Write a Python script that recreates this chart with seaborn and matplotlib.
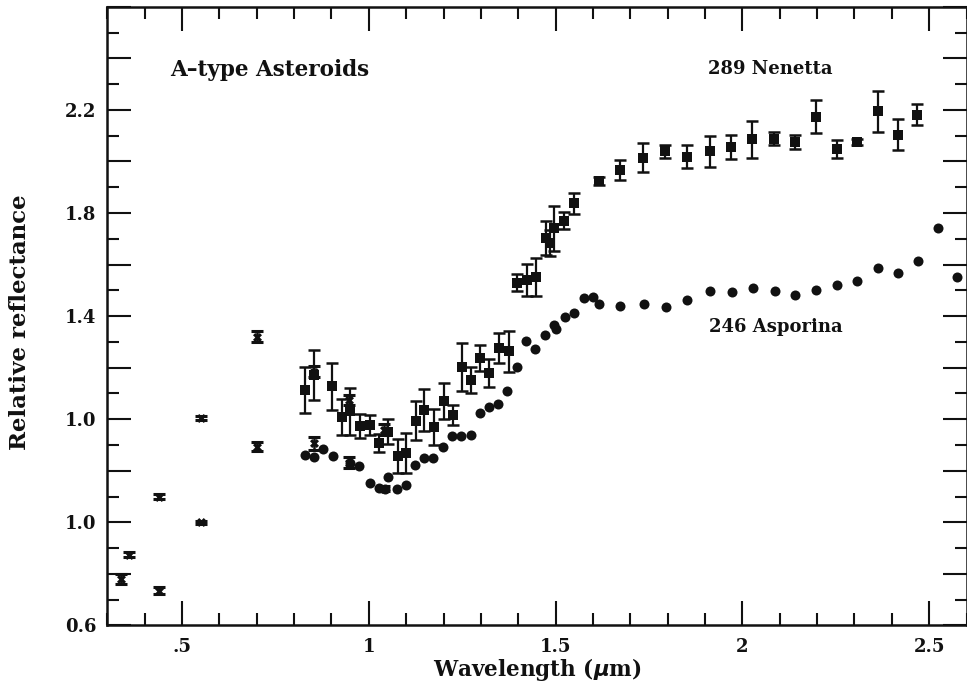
import numpy as np
import pandas as pd
import matplotlib
matplotlib.use("Agg")
import matplotlib.pyplot as plt
from matplotlib.ticker import FixedLocator, FixedFormatter, MultipleLocator
import seaborn as sns

# 289 Nenetta spectrum (plotted with +0.4 offset) and 1-sigma errors
nen_wl = [0.829, 0.853, 0.902, 0.928, 0.950, 0.977, 1.002, 1.026, 1.050, 1.077,
          1.100, 1.126, 1.149, 1.175, 1.200, 1.224, 1.249, 1.273, 1.298, 1.323,
          1.349, 1.374, 1.396, 1.423, 1.448, 1.475, 1.485, 1.495, 1.523, 1.548,
          1.615, 1.673, 1.734, 1.794, 1.852, 1.913, 1.970, 2.027, 2.084, 2.140,
          2.196, 2.254, 2.307, 2.363, 2.416, 2.468]
nen_refl = [1.514, 1.572, 1.527, 1.408, 1.430, 1.374, 1.378, 1.307, 1.352, 1.258,
            1.270, 1.395, 1.436, 1.371, 1.472, 1.417, 1.602, 1.553, 1.639, 1.579,
            1.676, 1.663, 1.930, 1.940, 1.951, 2.103, 2.085, 2.141, 2.171, 2.238,
            2.325, 2.368, 2.415, 2.439, 2.419, 2.439, 2.456, 2.487, 2.488, 2.475,
            2.574, 2.448, 2.475, 2.594, 2.503, 2.581]
nen_err = [0.090, 0.097, 0.090, 0.070, 0.093, 0.045, 0.040, 0.036, 0.050, 0.066,
           0.078, 0.074, 0.080, 0.070, 0.070, 0.040, 0.094, 0.050, 0.050, 0.053,
           0.058, 0.078, 0.034, 0.062, 0.073, 0.067, 0.050, 0.087, 0.033, 0.040,
           0.015, 0.039, 0.056, 0.025, 0.044, 0.060, 0.046, 0.072, 0.025, 0.026,
           0.065, 0.034, 0.012, 0.080, 0.060, 0.041]

# 246 Asporina spectrum
asp_wl = [0.829, 0.853, 0.878, 0.903, 0.950, 0.975, 1.002, 1.028, 1.044, 1.051,
          1.075, 1.100, 1.124, 1.148, 1.173, 1.198, 1.222, 1.247, 1.273, 1.298,
          1.323, 1.347, 1.371, 1.396, 1.421, 1.446, 1.472, 1.495, 1.502, 1.526,
          1.550, 1.575, 1.599, 1.615, 1.673, 1.736, 1.796, 1.852, 1.914, 1.971,
          2.028, 2.086, 2.140, 2.196, 2.254, 2.308, 2.363, 2.416, 2.470, 2.525,
          2.575]
asp_refl = [1.262, 1.255, 1.284, 1.258, 1.229, 1.219, 1.152, 1.132, 1.129, 1.177,
            1.129, 1.145, 1.223, 1.249, 1.251, 1.294, 1.335, 1.333, 1.339, 1.423,
            1.449, 1.460, 1.511, 1.604, 1.705, 1.672, 1.725, 1.766, 1.749, 1.796,
            1.814, 1.870, 1.876, 1.848, 1.840, 1.848, 1.835, 1.863, 1.899, 1.894,
            1.911, 1.898, 1.881, 1.902, 1.921, 1.938, 1.985, 1.969, 2.012, 2.140,
            1.951]

# Eight-color (ECAS) photometry for both asteroids
ecas_up_wl = [0.337, 0.359, 0.437, 0.550, 0.701, 0.853, 0.948, 1.041]
ecas_up_refl = [0.780, 0.875, 1.100, 1.404, 1.720, 1.585, 1.475, 1.360]
ecas_up_err = [0.018, 0.008, 0.008, 0.008, 0.022, 0.020, 0.020, 0.020]
ecas_lo_wl = [0.437, 0.550, 0.701, 0.853, 0.948, 1.041]
ecas_lo_refl = [0.735, 1.000, 1.294, 1.307, 1.232, 1.130]
ecas_lo_err = [0.014, 0.006, 0.016, 0.025, 0.022, 0.010]

# Axis tick labels (upper spectrum is offset by 0.4)
ytick_pos = [0.6, 1.0, 1.4, 1.8, 2.2, 2.6]
ytick_text = ["0.6", "1.0", "1.0", "1.4", "1.8", "2.2"]
xtick_pos = [0.5, 1.0, 1.5, 2.0, 2.5]
xtick_text = [".5", "1", "1.5", "2", "2.5"]

sns.set_theme(style="ticks")
plt.rcParams["font.family"] = ["DejaVu Serif"]
plt.rcParams["font.weight"] = "bold"

ink = "#111111"
fig = plt.figure(figsize=(9.67, 6.85), dpi=100)
ax = fig.add_axes([0.111, 0.087, 0.8885, 0.903])

nen = pd.DataFrame({"wl": nen_wl, "refl": nen_refl})
asp = pd.DataFrame({"wl": asp_wl, "refl": asp_refl})
eup = pd.DataFrame({"wl": ecas_up_wl, "refl": ecas_up_refl})
elo = pd.DataFrame({"wl": ecas_lo_wl, "refl": ecas_lo_refl})

ax.errorbar(nen_wl, nen_refl, yerr=nen_err, fmt="none", ecolor=ink,
            elinewidth=1.6, capsize=4.2, capthick=1.8, zorder=2)
sns.scatterplot(data=nen, x="wl", y="refl", marker="s", s=42, color=ink,
                edgecolor=ink, linewidth=0, ax=ax, zorder=3)
sns.scatterplot(data=asp, x="wl", y="refl", marker="o", s=52, color=ink,
                edgecolor=ink, linewidth=0, ax=ax, zorder=3)

for xs, ys, es in [(ecas_up_wl, ecas_up_refl, ecas_up_err),
                   (ecas_lo_wl, ecas_lo_refl, ecas_lo_err)]:
    ax.errorbar(xs, ys, yerr=es, fmt="none", ecolor=ink, elinewidth=1.8,
                capsize=4.2, capthick=2.2, zorder=2)
sns.scatterplot(data=pd.concat([eup, elo]), x="wl", y="refl", marker="X",
                s=42, color=ink, edgecolor=ink, linewidth=0, ax=ax, zorder=4)

ax.set_xlim(0.3, 2.6)
ax.set_ylim(0.6, 3.0)

ax.xaxis.set_major_locator(FixedLocator(xtick_pos))
ax.xaxis.set_major_formatter(FixedFormatter(xtick_text))
ax.xaxis.set_minor_locator(MultipleLocator(0.1))
major_y = np.round(np.arange(0.6, 3.01, 0.2), 2)
ax.yaxis.set_major_locator(FixedLocator(major_y))
ax.yaxis.set_major_formatter(FixedFormatter(
    [ytick_text[ytick_pos.index(v)] if v in ytick_pos else "" for v in major_y]))
ax.yaxis.set_minor_locator(MultipleLocator(0.1))

ax.tick_params(which="both", direction="in", top=True, right=True,
               color=ink, width=1.5)
ax.tick_params(which="major", length=17, labelsize=13, pad=8)
ax.tick_params(axis="x", which="major", pad=9)
ax.tick_params(which="minor", length=8.5)
for lab in ax.get_xticklabels() + ax.get_yticklabels():
    lab.set_fontweight("bold")
    lab.set_color(ink)
for sp in ax.spines.values():
    sp.set_linewidth(1.8)
    sp.set_color(ink)

ax.set_xlabel("Wavelength ($\\mu$m)", fontsize=15.5, fontweight="bold",
              color=ink, labelpad=0)
ax.set_ylabel("Relative reflectance", fontsize=16.5, fontweight="bold",
              color=ink)
ax.yaxis.set_label_coords(-0.089, 0.49)

ax.text(0.467, 2.756, "A\u2013type Asteroids", fontsize=15.5, fontweight="bold",
        color=ink, ha="left", va="center")
ax.text(2.075, 2.759, "289 Nenetta", fontsize=13, fontweight="bold",
        color=ink, ha="center", va="center")
ax.text(2.089, 1.758, "246 Asporina", fontsize=13, fontweight="bold",
        color=ink, ha="center", va="center")

fig.savefig("out.png", dpi=100)
